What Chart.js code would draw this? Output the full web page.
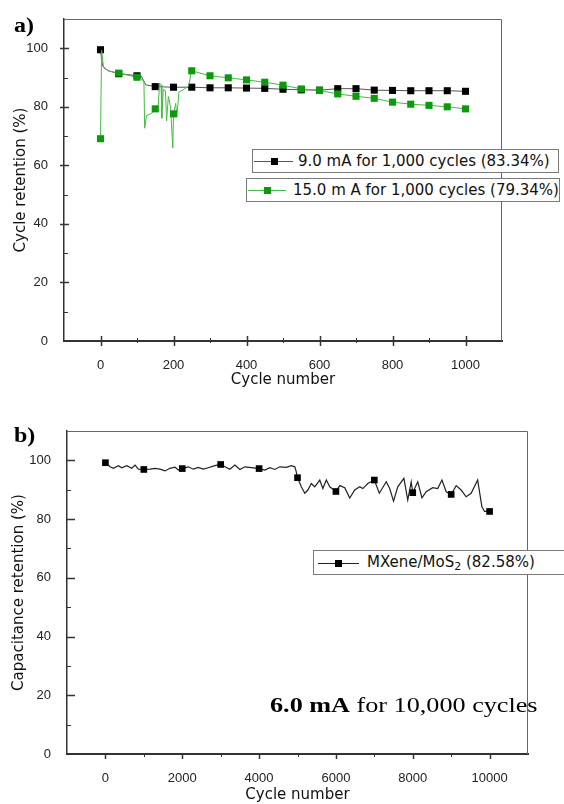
<!DOCTYPE html>
<html>
<head>
<meta charset="utf-8">
<script src="https://cdn.jsdelivr.net/npm/chart.js@4.4.1/dist/chart.umd.min.js"></script>
<style>
  body { margin: 0; background: #fff; }
  #page { position: relative; width: 564px; height: 804px; overflow: hidden; font-family: "DejaVu Sans", sans-serif; }
  #page canvas { position: absolute; left: 0; }
  .panel { position: absolute; font: bold 20px "Liberation Serif", serif; transform: scaleX(1.2); transform-origin: left; color: #000; }
  .legend { position: absolute; border: 1px solid #7a7a7a; background: #fff; box-sizing: border-box; font-size: 15px; color: #111; white-space: nowrap; }
  .legend .ln { position: absolute; height: 1px; top: 50%; }
  .legend .mk { position: absolute; width: 7px; height: 7px; top: 50%; margin-top: -3px; }
  .legend .tx { position: absolute; top: 50%; transform: translateY(-52%); }
  .note { position: absolute; left: 270px; top: 692px; font: 22px "Liberation Serif", serif; transform: scaleX(1.19); transform-origin: left; color: #000; white-space: nowrap; }
</style>
</head>
<body>
<div id="page">
  <canvas id="chartA" width="564" height="390" style="top:0"></canvas>
  <canvas id="chartB" width="564" height="414" style="top:390px"></canvas>

  <div class="panel" style="left:14px;top:14px">a)</div>
  <div class="panel" style="left:14px;top:424px">b)</div>

  <div class="legend" style="left:252px;top:149px;width:307px;height:24px">
    <div class="ln" style="left:1px;width:39px;background:#555"></div>
    <div class="mk" style="left:18px;background:#000"></div>
    <div class="tx" style="left:45px">9.0 mA for 1,000 cycles (83.34%)</div>
  </div>
  <div class="legend" style="left:246px;top:178px;width:314px;height:24px">
    <div class="ln" style="left:1px;width:38px;background:#44bb44"></div>
    <div class="mk" style="left:17px;background:#0a9a0a"></div>
    <div class="tx" style="left:46px">15.0 m A for 1,000 cycles (79.34%)</div>
  </div>
  <div class="legend" style="left:313px;top:550px;width:251px;height:25px;border-right:none">
    <div class="ln" style="left:4px;width:41px;background:#222"></div>
    <div class="mk" style="left:21px;background:#000"></div>
    <div class="tx" style="left:53px">MXene/MoS<sub style="font-size:11px;vertical-align:-3px">2</sub> (82.58%)</div>
  </div>

  <div class="note"><b>6.0 mA</b> for 10,000 cycles</div>
</div>

<script>
// ---------- panel a: 9.0 mA / 15.0 mA, 1,000 cycles ----------
const cyclesA9 = [0, 3, 6, 12, 25, 50, 75, 100, 112, 118, 124, 150, 200, 250, 300, 350, 400, 450, 500,
  550, 600, 650, 700, 750, 800, 850, 900, 950, 1000];
const retA9 = [99.5, 96.0, 94.0, 93.0, 92.2, 91.3, 91.0, 90.6, 90.4, 89.0, 87.5, 86.9, 86.7, 86.7, 86.5, 86.5, 86.4, 86.3, 86.0,
  85.8, 85.7, 86.2, 86.2, 85.7, 85.6, 85.5, 85.5, 85.5, 85.3];

const cyclesA15 = [0, 3, 8, 20, 50, 100, 110, 119, 121, 126, 140, 150, 158, 162, 166, 168, 172, 178, 181, 186,
  192, 198, 200, 206, 209, 215, 226, 240, 244, 248, 250, 300, 350, 400, 450, 500, 550, 600, 650, 700,
  750, 800, 850, 900, 950, 1000];
const retA15 = [69.1, 99.3, 93.8, 92.3, 91.5, 90.1, 89.8, 88.5, 72.7, 77.0, 77.8, 79.3, 80.0, 88.1, 87.5, 76.1, 86.0, 85.5, 75.2, 83.5,
  80.0, 65.9, 77.6, 81.2, 76.5, 85.0, 85.8, 86.9, 88.5, 91.9, 92.3, 90.6, 89.9, 89.2, 88.4, 87.4, 86.1, 85.6, 84.4, 83.6,
  82.9, 81.6, 80.9, 80.5, 80.0, 79.3];

const ticksAx = [-100, 0, 100, 200, 300, 400, 500, 600, 700, 800, 900, 1000, 1100];
const ticksY = [0, 10, 20, 30, 40, 50, 60, 70, 80, 90, 100, 110];

// ---------- panel b: MXene/MoS2, 10,000 cycles ----------
const cyclesB = [0, 122, 208, 338, 425, 555, 685, 771, 858, 1000, 1161, 1291, 1421, 1551, 1681, 1811, 1897,
  2000, 2157, 2287, 2417, 2547, 2677, 2850, 3000, 3110, 3240, 3370, 3500, 3630, 3800, 4000, 4150, 4280,
  4410, 4540, 4710, 4840, 4930, 4960, 5000, 5100, 5190, 5270, 5360, 5450, 5580, 5660, 5750, 5840, 6000,
  6100, 6230, 6360, 6490, 6620, 6700, 6830, 7000, 7130, 7310, 7400, 7500, 7610, 7770, 7870, 7960, 8000,
  8130, 8240, 8350, 8520, 8650, 8760, 8870, 9000, 9130, 9260, 9390, 9520, 9690, 9800, 9870, 10000];
const retB = [99.2, 97.8, 97.3, 98.2, 97.5, 98.2, 97.3, 98.4, 97.0, 96.9, 97.0, 97.3, 97.0, 96.4, 97.3, 97.7, 96.7,
  97.2, 97.8, 97.0, 97.6, 97.0, 97.5, 98.2, 98.6, 97.8, 97.0, 98.4, 96.9, 97.8, 97.5, 97.2, 96.7, 97.5,
  96.9, 97.8, 97.6, 98.2, 97.8, 96.5, 94.1, 91.0, 88.8, 89.9, 92.1, 91.0, 93.3, 90.4, 93.3, 91.0, 89.4,
  91.4, 90.7, 87.2, 89.9, 91.0, 90.4, 92.1, 93.3, 88.8, 92.7, 90.4, 86.1, 91.0, 93.9, 86.5, 92.7, 89.0,
  92.7, 87.2, 89.3, 90.7, 90.4, 93.3, 89.3, 88.4, 91.4, 89.9, 87.6, 88.8, 93.3, 84.2, 82.6, 82.6];

const ticksBx = [-1000, 0, 1000, 2000, 3000, 4000, 5000, 6000, 7000, 8000, 9000, 10000, 11000];

const TICK_FONT = { family: "'Liberation Sans', Arial, sans-serif", size: 13 };
const TITLE_FONT = { family: "'DejaVu Sans', sans-serif", size: 15 };

// frame (top + right) and Origin-style tick marks
const axisDecor = {
  id: "axisDecor",
  afterDraw(chart) {
    const o = chart.options.plugins.axisDecor;
    const { ctx, chartArea: a } = chart;
    const x = chart.scales.x, y = chart.scales.y;
    ctx.save();
    ctx.strokeStyle = "#666";
    ctx.lineWidth = 1;
    ctx.beginPath();
    ctx.moveTo(a.left, a.top + 0.5);
    ctx.lineTo(a.right - 0.5, a.top + 0.5);
    ctx.lineTo(a.right - 0.5, a.bottom);
    ctx.stroke();

    ctx.strokeStyle = "#333";
    x.ticks.forEach((t) => {
      if (t.value <= x.min || t.value >= x.max) return;
      const px = Math.round(x.getPixelForValue(t.value)) + 0.5;
      const major = t.value % o.xMajor === 0;
      const [out, inn] = major ? o.xMajorLen : o.xMinorLen;
      ctx.lineWidth = major ? 1.5 : 1;
      ctx.beginPath();
      ctx.moveTo(px, a.bottom + out);
      ctx.lineTo(px, a.bottom - inn);
      ctx.stroke();
    });
    y.ticks.forEach((t) => {
      if (t.value <= y.min || t.value >= y.max) return;
      const py = Math.round(y.getPixelForValue(t.value)) + 0.5;
      const major = t.value % 20 === 0;
      const [out, inn] = major ? o.yMajorLen : o.yMinorLen;
      ctx.lineWidth = major ? 1.5 : 1;
      ctx.beginPath();
      ctx.moveTo(a.left - out, py);
      ctx.lineTo(a.left + inn, py);
      ctx.stroke();
    });
    ctx.restore();
  },
};

function panelOptions(p) {
  return {
    responsive: false,
    animation: false,
    events: [],
    layout: { padding: { left: 0, top: p.padTop, right: p.padRight, bottom: 0 } },
    plugins: {
      legend: { display: false },
      tooltip: { enabled: false },
      axisDecor: p.decor,
    },
    scales: {
      x: {
        type: "linear",
        min: p.xTicks[0],
        max: p.xTicks[p.xTicks.length - 1],
        afterBuildTicks: (s) => { s.ticks = p.xTicks.map((v) => ({ value: v })); },
        afterFit: (s) => { s.height = p.xAxisH; },
        grid: { display: false },
        border: { display: true, color: "#333", width: 2 },
        ticks: {
          padding: 9, font: TICK_FONT, color: "#222", maxRotation: 0, autoSkip: false,
          callback: (v) => (v % p.xLabelStep === 0 && v >= 0 && v <= p.xLast ? String(v) : ""),
        },
        title: { display: true, text: "Cycle number", font: TITLE_FONT, color: "#111", padding: { top: 0, bottom: p.xTitlePad } },
      },
      y: {
        type: "linear",
        min: 0,
        max: 110,
        afterBuildTicks: (s) => { s.ticks = ticksY.map((v) => ({ value: v })); },
        afterFit: (s) => { s.width = p.yAxisW; },
        grid: { display: false },
        border: { display: true, color: "#333", width: 1.5 },
        ticks: {
          padding: 8, font: TICK_FONT, color: "#222", autoSkip: false,
          callback: (v) => (v % 20 === 0 && v <= 100 ? String(v) : ""),
        },
        title: { display: true, text: p.yTitle, font: TITLE_FONT, color: "#111", padding: { top: p.yTitlePad, bottom: 0 } },
      },
    },
  };
}

const toPoints = (xs, ys) => xs.map((c, i) => ({ x: c, y: ys[i] }));
const markEvery = (step, r) => (ctx) => (ctx.raw && ctx.raw.x % step === 0 ? r : 0);

new Chart(document.getElementById("chartA"), {
  type: "line",
  data: {
    datasets: [
      {
        label: "15.0 m A for 1,000 cycles (79.34%)",
        data: toPoints(cyclesA15, retA15),
        order: 0,
        borderColor: "#44bb44",
        borderWidth: 1,
        pointStyle: "rect",
        pointRadius: markEvery(50, 5),
        pointBackgroundColor: "#0a9a0a",
        pointBorderColor: "#0a9a0a",
        pointBorderWidth: 0,
        tension: 0,
      },
      {
        label: "9.0 mA for 1,000 cycles (83.34%)",
        data: toPoints(cyclesA9, retA9),
        order: 1,
        borderColor: "#555",
        borderWidth: 1,
        pointStyle: "rect",
        pointRadius: markEvery(50, 5),
        pointBackgroundColor: "#000",
        pointBorderColor: "#000",
        pointBorderWidth: 0,
        tension: 0,
      },
    ],
  },
  options: panelOptions({
    padTop: 19, padRight: 62, xAxisH: 49, yAxisW: 64,
    xTicks: ticksAx, xLabelStep: 200, xLast: 1000, xTitlePad: 1,
    yTitle: "Cycle retention (%)", yTitlePad: 12,
    decor: { xMajor: 200, xMajorLen: [5, 5], xMinorLen: [2, 3], yMajorLen: [4, 5], yMinorLen: [0, 4] },
  }),
  plugins: [axisDecor],
});

new Chart(document.getElementById("chartB"), {
  type: "line",
  data: {
    datasets: [
      {
        label: "MXene/MoS2 (82.58%)",
        data: toPoints(cyclesB, retB),
        borderColor: "#222",
        borderWidth: 1.2,
        pointStyle: "rect",
        pointRadius: markEvery(1000, 4.7),
        pointBackgroundColor: "#000",
        pointBorderColor: "#000",
        pointBorderWidth: 0,
        tension: 0,
      },
    ],
  },
  options: panelOptions({
    padTop: 41, padRight: 36, xAxisH: 50, yAxisW: 67,
    xTicks: ticksBx, xLabelStep: 2000, xLast: 10000, xTitlePad: 0,
    yTitle: "Capacitance retention (%)", yTitlePad: 10,
    decor: { xMajor: 2000, xMajorLen: [5, 0], xMinorLen: [3, 0], yMajorLen: [0, 8], yMinorLen: [0, 4] },
  }),
  plugins: [axisDecor],
});
</script>
</body>
</html>
